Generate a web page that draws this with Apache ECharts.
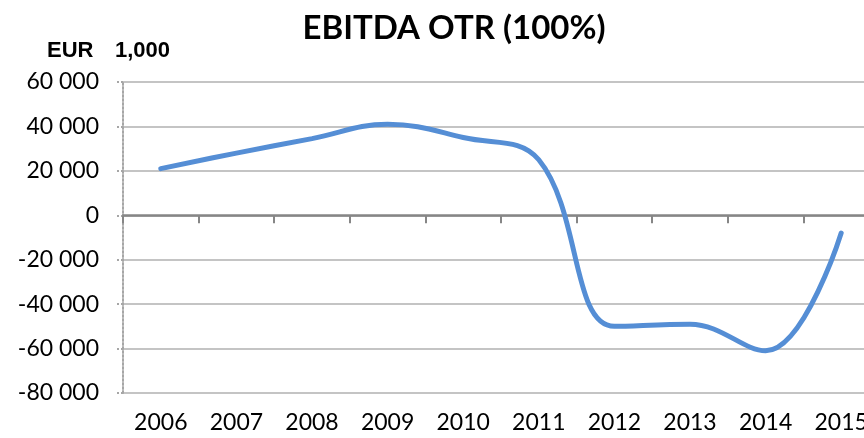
<!DOCTYPE html>
<html>
<head>
<meta charset="utf-8">
<script src="https://cdn.jsdelivr.net/npm/echarts@6/dist/echarts.min.js"></script>
<style>
  html, body { margin: 0; padding: 0; background: #fff; }
  #chart { width: 864px; height: 438px; }
</style>
</head>
<body>
<div id="chart"></div>
<script>
// data (EUR 1,000)
const years = ['2006', '2007', '2008', '2009', '2010', '2011', '2012', '2013', '2014', '2015'];
const ebitda = [21000, 28000, 34500, 41000, 35000, 25000, -50000, -49000, -61000, -8000];

const FONT = 'Lato, "Liberation Sans", sans-serif';

// 60000 -> "60 000"
const fmt = v => {
  const s = Math.abs(v).toString().replace(/\B(?=(\d{3})+(?!\d))/g, ' ');
  return (v < 0 ? '-' : '') + s;
};

const chart = echarts.init(document.getElementById('chart'));

const option = {
  animation: false,
  title: {
    text: 'EBITDA OTR (100%)',
    left: 449,
    textAlign: 'center',
    top: 7,
    textStyle: { fontFamily: FONT, fontSize: 33, fontWeight: 'bold', color: '#000' }
  },
  graphic: [
    {
      type: 'text',
      left: 47,
      top: 40,
      style: { text: 'EUR', font: 'bold 22px "Liberation Sans", Arial, sans-serif', fill: '#000' }
    },
    {
      type: 'text',
      left: 115,
      top: 40,
      style: { text: '1,000', font: 'bold 22px "Liberation Sans", Arial, sans-serif', fill: '#000' }
    }
  ],
  // the plot runs past the right edge of the window, as in the original
  grid: { left: 123, width: 756, top: 82, bottom: 45, outerBoundsMode: 'none' },
  xAxis: [
    {
      type: 'category',
      data: years,
      axisLine: { show: false, onZero: false },
      axisTick: { show: false },
      axisLabel: { margin: 18, fontFamily: FONT, fontSize: 23, color: '#000' }
    },
    {
      type: 'category',
      data: years,
      position: 'bottom',
      axisLine: { onZero: true, lineStyle: { color: '#868686', width: 2.5 } },
      axisTick: { show: true, length: 8, lineStyle: { color: '#868686', width: 2 } },
      axisLabel: { show: false }
    }
  ],
  yAxis: {
    type: 'value',
    min: -80000,
    max: 60000,
    interval: 20000,
    axisLine: { show: true, lineStyle: { color: '#a6a6a6', type: 'dotted', width: 2 } },
    axisTick: { show: true, length: 6, lineStyle: { color: '#a6a6a6', type: 'dotted', width: 2 } },
    axisLabel: { margin: 24, fontFamily: FONT, fontSize: 23, color: '#000', formatter: fmt },
    splitLine: { lineStyle: { color: '#b0b0b0', width: 1.5 } }
  },
  series: [
    {
      name: 'EBITDA',
      type: 'line',
      xAxisIndex: 1,
      data: ebitda,
      smooth: 0.4,
      symbol: 'none',
      lineStyle: { color: '#558ed5', width: 5, cap: 'round' }
    }
  ]
};

chart.setOption(option);
</script>
</body>
</html>
